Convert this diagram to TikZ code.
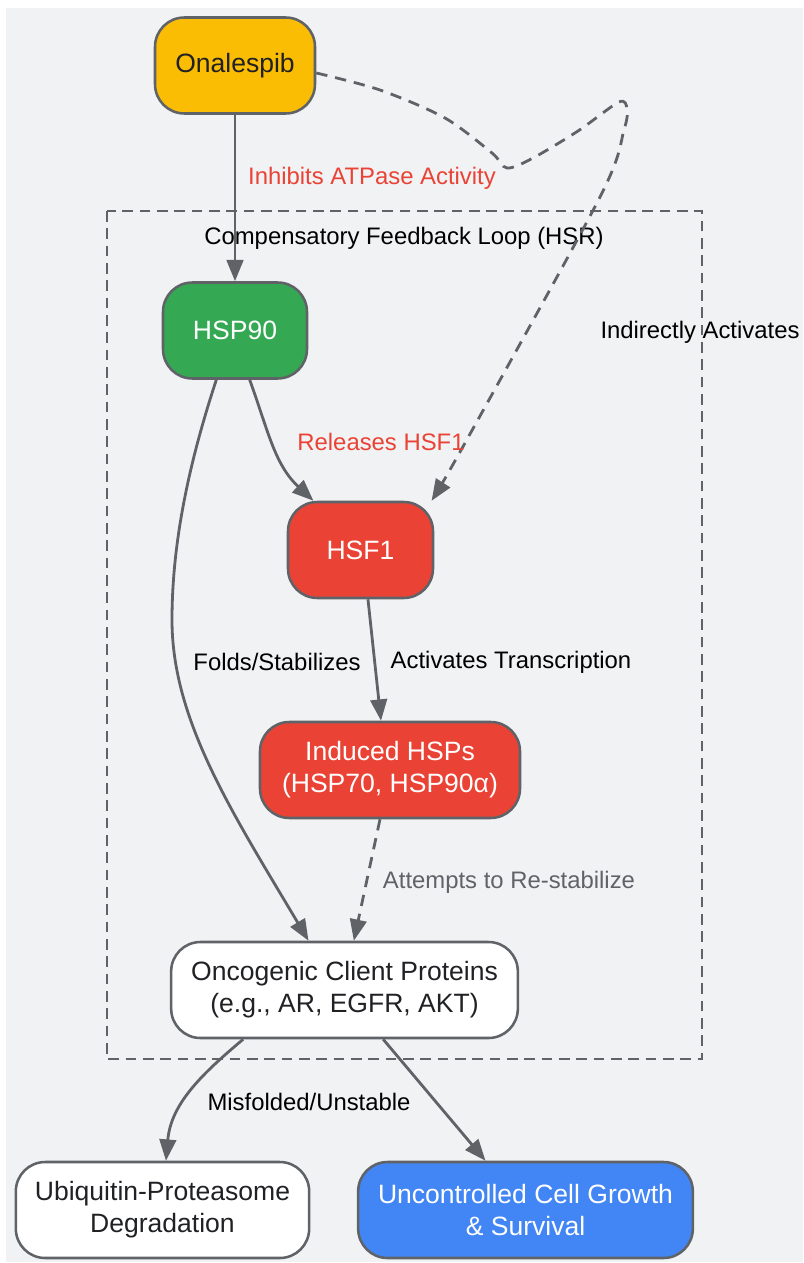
\documentclass[tikz,border=0pt]{standalone}
\usepackage{fontspec}
\setmainfont{Liberation Sans}
\usetikzlibrary{arrows.meta}

\definecolor{bggray}{HTML}{F1F2F4}
\definecolor{edgegray}{HTML}{5F6368}
\definecolor{gyellow}{HTML}{FBBC04}
\definecolor{ggreen}{HTML}{34A853}
\definecolor{gred}{HTML}{EA4335}
\definecolor{gblue}{HTML}{4285F4}
\definecolor{darktext}{HTML}{202124}

\begin{document}
\begin{tikzpicture}
[x=0.75pt,y=-0.75pt,
box/.style={shape=rectangle,rounded corners=22pt,draw=edgegray,line width=1.9pt,
  inner sep=0pt,minimum height=72pt,align=center,text=darktext,
  font=\fontsize{19.9}{24}\selectfont},
drug/.style={box,fill=gyellow},
chaperone/.style={box,fill=ggreen,text=white},
factor/.style={box,fill=gred,text=white},
client/.style={box,fill=white},
outcome/.style={box,fill=gblue,text=white},
%
lbl/.style={font=\fontsize{17.9}{21}\selectfont,text=black,inner sep=1pt},
redlbl/.style={lbl,text=gred},
graylbl/.style={lbl,text=edgegray},
%
arr/.style={-{Triangle[length=16pt,width=12.5pt]},draw=edgegray,line width=2.1pt},
darr/.style={arr,dash pattern=on 8.5pt off 6pt},
loopbox/.style={draw=edgegray,line width=1.9pt,dash pattern=on 8pt off 5pt}]

\useasboundingbox (0,0) rectangle (803,1263);
\fill[bggray] (6,8) rectangle (803,1262);

% cluster
\draw[loopbox] (107,211) rectangle (702,1059);
\node (hsr) [lbl] at (404,238) {Compensatory Feedback Loop (HSR)};

% nodes
\node (ona) [drug,minimum width=120pt] at (235,65.5) {Onalespib};
\node (hsp) [chaperone,minimum width=108pt] at (235,330.5) {HSP90};
\node (hsf) [factor,minimum width=108.75pt] at (360.5,550) {HSF1};
\node (ind) [factor,minimum width=195pt] at (390,770) {Induced HSPs\\(HSP70, HSP90α)};
\node (onc) [client,minimum width=260pt] at (344.5,990) {Oncogenic Client Proteins\\(e.g., AR, EGFR, AKT)};
\node (ubi) [client,minimum width=220pt] at (162.5,1210) {Ubiquitin-Proteasome\\Degradation};
\node (unc) [outcome,minimum width=251pt] at (525.5,1210) {Uncontrolled Cell Growth\\\& Survival};

% edges
\draw[arr] (ona) -- (hsp);
\draw[darr] plot[smooth,tension=0.5] coordinates {([yshift=-5.6pt]ona.east) (380,90) (445,118)
  (492,153) (507,168) (533,158) (578,131) (619,102) (627,109) (624,130) (600,197)
  (465,443) ([xshift=-2pt]hsf.north east)};
\draw[arr] ([xshift=11pt]hsp.south) to[out=-70,in=137] ([xshift=20pt]hsf.north west);
\draw[arr] ([xshift=-14pt]hsp.south) .. controls (190,460) and (172,540) .. (172,620)
  .. controls (172,720) and (232,812) .. ([xshift=-27pt]onc.north);
\draw[arr] ([xshift=5.6pt]hsf.south) -- ([xshift=-6.75pt]ind.north);
\draw[darr] ([xshift=-7.5pt]ind.south) -- ([xshift=7pt]onc.north);
\draw[arr] ([xshift=-76pt]onc.south) to[out=-140,in=85] ([xshift=2.6pt]ubi.north);
\draw[arr] ([xshift=29pt]onc.south) -- ([xshift=-30pt]unc.north);

% edge labels
\node (inh) [redlbl] at (372,178) {Inhibits ATPase Activity};
\node (ind-act) [lbl] at (700,332) {Indirectly Activates};
\node (rel) [redlbl] at (381,442) {Releases HSF1};
\node (fold) [lbl] at (277,662) {Folds/Stabilizes};
\node (trans) [lbl] at (511,662) {Activates Transcription};
\node (restab) [graylbl] at (509,882) {Attempts to Re-stabilize};
\node (misf) [lbl] at (309,1102) {Misfolded/Unstable};

\end{tikzpicture}
\end{document}
